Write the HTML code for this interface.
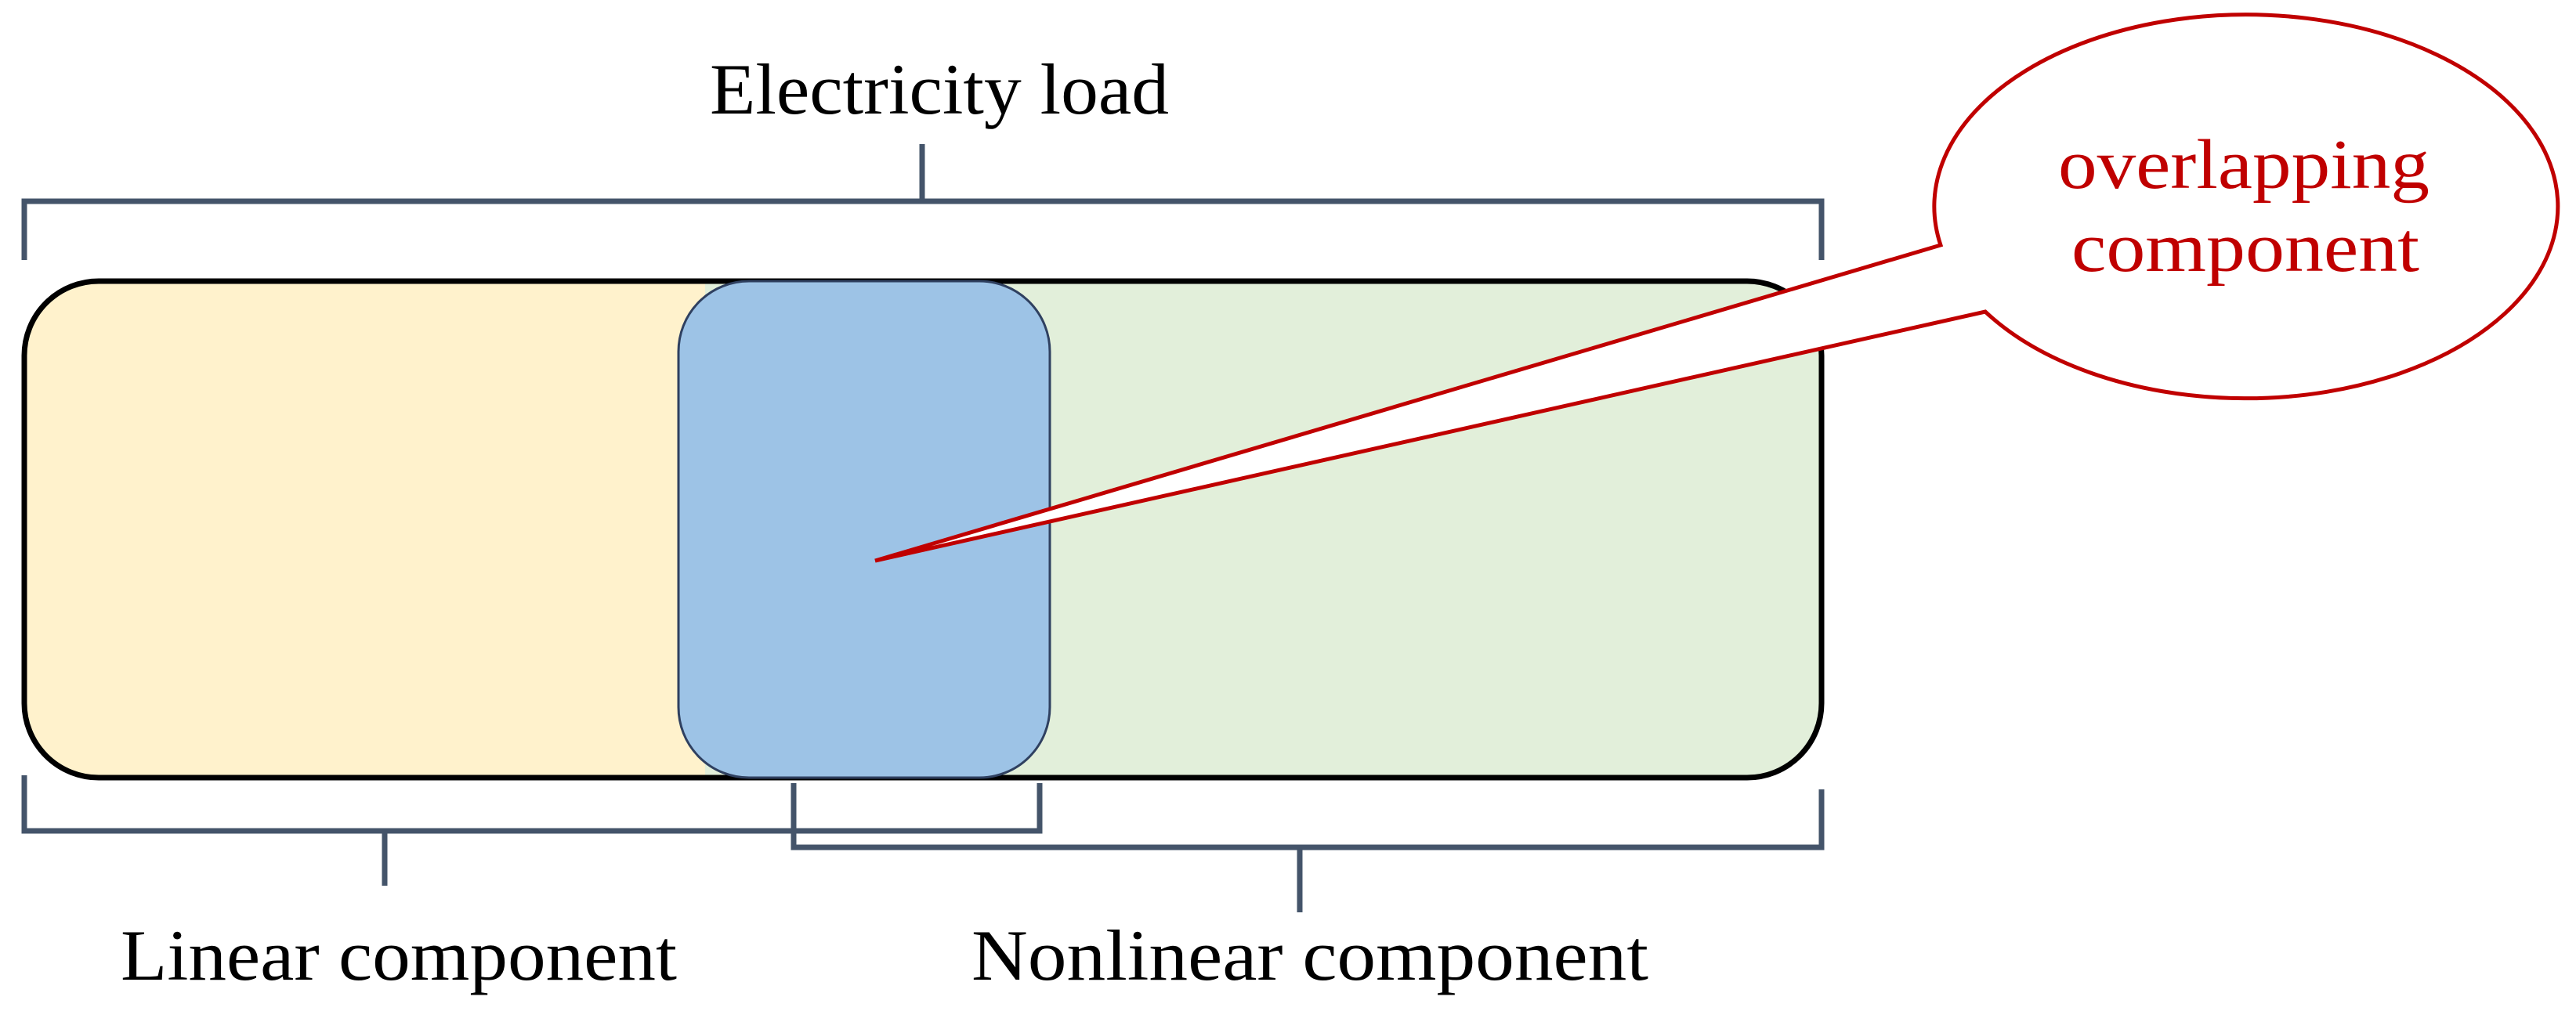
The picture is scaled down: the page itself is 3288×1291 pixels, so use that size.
<!DOCTYPE html>
<html><head><meta charset="utf-8"><style>html,body{margin:0;padding:0;background:#fff}svg{display:block}</style></head>
<body>
<svg width="3288" height="1291" viewBox="0 0 3288 1291" xmlns="http://www.w3.org/2000/svg">
<defs><clipPath id="c"><rect x="31" y="359" width="2294" height="634" rx="95" ry="95"/></clipPath></defs>
<g clip-path="url(#c)">
<rect x="31" y="359" width="900" height="634" fill="#FFF2CC"/>
<rect x="900" y="359" width="1430" height="634" fill="#E2EFDA"/>
</g>
<rect x="31" y="359" width="2294" height="634" rx="95" ry="95" fill="none" stroke="#000" stroke-width="7"/>
<rect x="866" y="359" width="474" height="634" rx="90" ry="90" fill="#9DC3E6" stroke="#2F4060" stroke-width="3"/>
<g stroke="#44546A" stroke-width="7" fill="none">
<polyline points="31,332 31,257 2325,257 2325,332"/>
<line x1="1177" y1="184" x2="1177" y2="257"/>
<polyline points="31,990 31,1061 1327,1061 1327,1000"/>
<line x1="491" y1="1061" x2="491" y2="1131"/>
<polyline points="1013,1000 1013,1082 2325,1082 2325,1008"/>
<line x1="1659" y1="1082" x2="1659" y2="1165"/>
</g>
<path d="M2477,313 A398,245 0 1 1 2534,398 L1117,716 Z" fill="#fff" stroke="#C00000" stroke-width="5" stroke-linejoin="miter"/>
<g font-family="Liberation Serif, serif" font-size="92" fill="#000">
<text x="906" y="145" textLength="586" lengthAdjust="spacingAndGlyphs">Electricity load</text>
<text x="154" y="1251" textLength="710" lengthAdjust="spacingAndGlyphs">Linear component</text>
<text x="1240" y="1251" textLength="864" lengthAdjust="spacingAndGlyphs">Nonlinear component</text>
</g>
<g font-family="Liberation Serif, serif" font-size="90" fill="#C00000">
<text x="2627" y="240" textLength="474" lengthAdjust="spacingAndGlyphs">overlapping</text>
<text x="2644" y="346" textLength="444" lengthAdjust="spacingAndGlyphs">component</text>
</g>
</svg>
</body></html>
